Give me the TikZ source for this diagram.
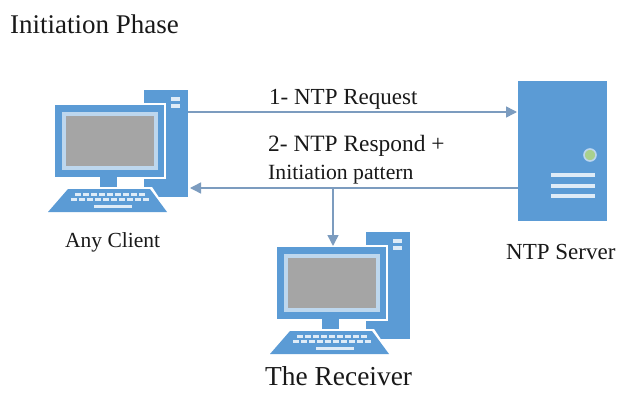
\documentclass[tikz,border=0pt]{standalone}
\usepackage{fontspec}
\setmainfont{Liberation Serif}
\usetikzlibrary{arrows.meta}
\definecolor{pcblue}{HTML}{5B9BD5}
\definecolor{pcpale}{HTML}{BDD7EE}
\definecolor{pcgrey}{HTML}{A5A5A5}
\definecolor{linkblue}{HTML}{7C9CBF}
\definecolor{ledgreen}{HTML}{A9D18E}
\tikzset{
    link/.style={draw=linkblue,line width=1.5pt,-{Triangle[length=11pt,width=11pt]}},
    label/.style={inner sep=0pt,anchor=base west,text=black!90},
    computer/.pic={
        %% Tower
        \fill[pcblue] (0,0) rectangle (44,107);
        \fill[pcpale!50!white] (27,7) rectangle (36,11);
        \fill[pcpale!50!white] (27,14) rectangle (36,18);
        %% Monitor
        \fill[white] (-91,13) rectangle (22,89);
        \fill[pcblue] (-89,15) rectangle (20,87);
        \fill[pcpale] (-82,22) rectangle (14,80);
        \fill[pcgrey] (-78,26) rectangle (10,76);
        %% Stand and keyboard
        \fill[pcblue] (-44,87) rectangle (-27,98);
        \fill[white] (-78,97) -- (8,97) -- (26,124) -- (-98,124) -- cycle;
        \fill[pcblue] (-76,99) -- (6,99) -- (23,122) -- (-96,122) -- cycle;
        \foreach \row/\xa/\n in {103/-69/9,108/-73/10}
            \foreach \k in {1,...,\n}
                \fill[pcpale!50!white] ({\xa+(\k-1)*8},\row) rectangle ++(6,3);
        \fill[pcpale!50!white] (-50,115) rectangle (-12,118);
    }
}
\begin{document}
\begin{tikzpicture}[x=1pt,y=-1pt]
    \useasboundingbox[fill=white] (0,0) rectangle (637,409);
    %% Machines
    \pic at (144,90) {computer};
    \pic at (366,232) {computer};
    \fill[pcblue] (518,81) rectangle (607,221);
    \draw[pcpale,line width=1.6pt,fill=ledgreen] (590,155) circle [radius=6];
    \foreach \y in {175,186,196}
        \fill[pcpale!50!white] (551,\y-2) rectangle (595,\y+2);
    %% Connector ends
    \coordinate (clientOut) at (188,112);
    \coordinate (clientIn) at (190,188);
    \coordinate (serverIn) at (517,112);
    \coordinate (serverOut) at (518,188);
    \coordinate (branch) at (333,188);
    \coordinate (receiverIn) at (333,246);
    %% Arrows
    \draw[link] (clientOut) -- (serverIn);
    \draw[link] (serverOut) -- (clientIn);
    \draw[link] (branch) -- (receiverIn);
    %% Labels
    \node[label,font=\fontsize{27}{27}\selectfont] (title) at (10,34) {Initiation Phase};
    \node[label,font=\fontsize{23}{23}\selectfont] (request) at (269,105) {1- NTP Request};
    \node[label,font=\fontsize{23.4}{23.4}\selectfont] (respond) at (268,151) {2- NTP Respond +};
    \node[label,font=\fontsize{21.7}{21.7}\selectfont] (pattern) at (268,179) {Initiation pattern};
    \node[label,font=\fontsize{21.5}{21.5}\selectfont] (clientName) at (65,247) {Any Client};
    \node[label,font=\fontsize{23}{23}\selectfont] (serverName) at (506,259) {NTP Server};
    \node[label,font=\fontsize{27.4}{27.4}\selectfont] (receiverName) at (265,385) {The Receiver};
\end{tikzpicture}
\end{document}
